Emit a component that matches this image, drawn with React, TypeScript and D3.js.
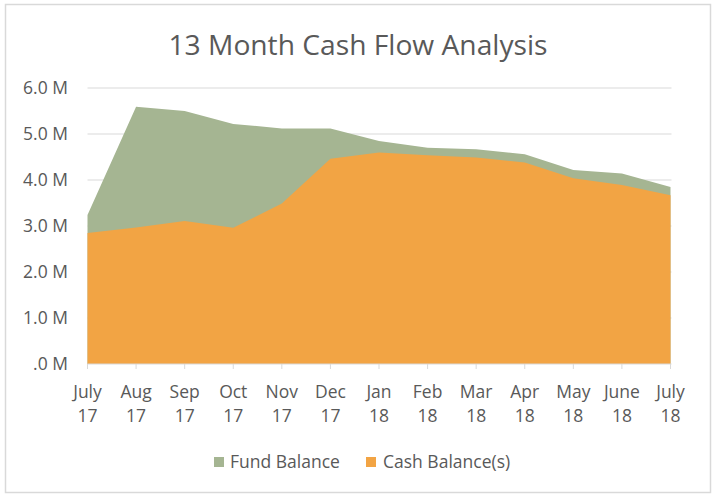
import React from "react";
import * as d3 from "d3";

const months = ["July", "Aug", "Sep", "Oct", "Nov", "Dec", "Jan", "Feb", "Mar", "Apr", "May", "June", "July"];
const years = ["17", "17", "17", "17", "17", "17", "18", "18", "18", "18", "18", "18", "18"];
const fundBalance = [3.24, 5.59, 5.5, 5.22, 5.12, 5.12, 4.85, 4.7, 4.67, 4.56, 4.22, 4.14, 3.85];
const cashBalance = [2.85, 2.97, 3.11, 2.96, 3.49, 4.46, 4.6, 4.54, 4.49, 4.38, 4.04, 3.89, 3.67];
const yTicks = [0, 1, 2, 3, 4, 5, 6];
const yTickLabels = [".0 M", "1.0 M", "2.0 M", "3.0 M", "4.0 M", "5.0 M", "6.0 M"];
const seriesNames = ["Fund Balance", "Cash Balance(s)"];

const W = 712;
const H = 495;
const FONT = "'Open Sans', sans-serif";
const TEXT = "#595959";
const GREEN = "#A5B592";
const ORANGE = "#F2A444";
const GRID = "#D9D9D9";

export default function App() {
  const idx = months.map((_, i) => i);
  const x = d3.scaleLinear().domain([0, 12]).range([87.5, 670.5]);
  const y = d3.scaleLinear().domain([0, 6]).range([364, 88]);
  const area = (vals: number[]) =>
    d3
      .area<number>()
      .x((_, i) => x(i))
      .y0(y(0))
      .y1((d) => y(d))(vals) as string;

  return (
    <svg
      width={W}
      height={H}
      style={{ position: "absolute", left: 0, top: 0, background: "#fff" }}
      fontFamily={FONT}
    >
      <rect x={5.5} y={4.5} width={705} height={488} fill="#fff" stroke={GRID} strokeWidth={1.5} />
      <text x={358} y={55} textAnchor="middle" fontSize={28.2} fill={TEXT}>
        13 Month Cash Flow Analysis
      </text>
      {yTicks.map((t, i) => (
        <g key={t}>
          {t > 0 && (
            <line x1={87.5} x2={671.5} y1={y(t)} y2={y(t)} stroke={GRID} strokeWidth={1} />
          )}
          <text x={68} y={y(t) + 6} textAnchor="end" fontSize={17.5} fill={TEXT}>
            {yTickLabels[i]}
          </text>
        </g>
      ))}
      <path d={area(fundBalance)} fill={GREEN} />
      <path d={area(cashBalance)} fill={ORANGE} />
      <line x1={87.5} x2={671.5} y1={y(0)} y2={y(0)} stroke={GRID} strokeWidth={1} />
      {idx.map((i) => (
        <g key={i}>
          <line x1={x(i)} x2={x(i)} y1={y(0)} y2={y(0) + 5} stroke={GRID} strokeWidth={1} />
          <text x={x(i)} y={398} textAnchor="middle" fontSize={17.5} fill={TEXT}>
            {months[i]}
          </text>
          <text x={x(i)} y={422} textAnchor="middle" fontSize={17.5} fill={TEXT}>
            {years[i]}
          </text>
        </g>
      ))}
      <rect x={214} y={457} width={10} height={10} fill={GREEN} />
      <text x={230} y={468} fontSize={17.5} fill={TEXT}>
        {seriesNames[0]}
      </text>
      <rect x={366} y={457} width={10} height={10} fill={ORANGE} />
      <text x={383} y={468} fontSize={17.5} fill={TEXT}>
        {seriesNames[1]}
      </text>
    </svg>
  );
}
